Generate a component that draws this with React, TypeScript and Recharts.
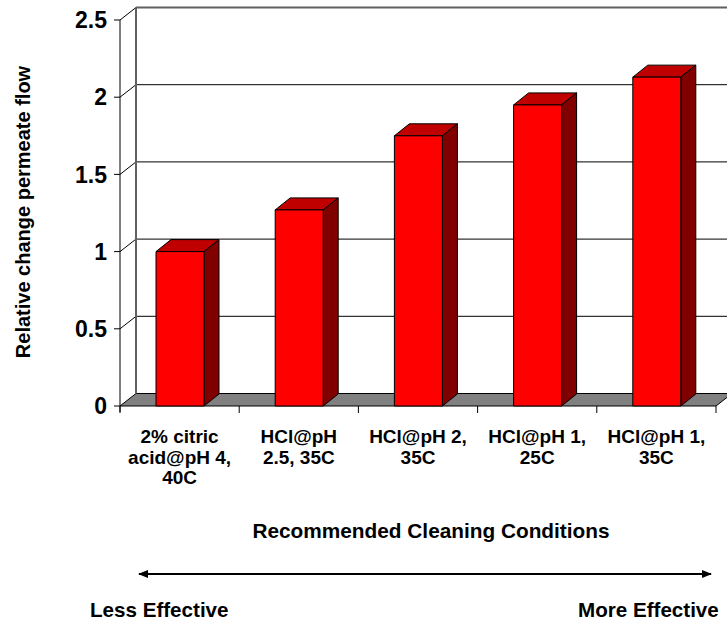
import {
  BarChart,
  Bar,
  XAxis,
  YAxis,
  CartesianGrid,
  ReferenceArea,
} from "recharts";

const categories = [
  "2% citric\nacid@pH 4,\n40C",
  "HCl@pH\n2.5, 35C",
  "HCl@pH 2,\n35C",
  "HCl@pH 1,\n25C",
  "HCl@pH 1,\n35C",
];
const flowChange = [1.0, 1.27, 1.75, 1.95, 2.13];
const yTicks = [0, 0.5, 1, 1.5, 2, 2.5];

const chartData = categories.map((name, i) => ({ name, value: flowChange[i] }));

const FONT = "'Liberation Sans', Arial, Helvetica, sans-serif";
const DX = 16; // depth offset of the back wall
const DY = -12.5;
const BAR_DX = 15;
const BAR_DY = -12;
const CHART_W = 760;
const CHART_H = 622;
const MARGIN = { top: 20, right: 44, left: 0, bottom: 0 };
const Y_AXIS_W = 120;
const BAND = (CHART_W - MARGIN.left - MARGIN.right - Y_AXIS_W) / categories.length;

function Bar3D(props: any) {
  const { x, y, width, height } = props;
  if (height == null || width == null) return null;
  const w = width;
  const h = height;
  return (
    <g stroke="#000" strokeWidth={1} strokeLinejoin="round">
      <polygon
        points={`${x},${y} ${x + BAR_DX},${y + BAR_DY} ${x + w + BAR_DX},${y + BAR_DY} ${x + w},${y}`}
        fill="#C00000"
      />
      <polygon
        points={`${x + w},${y} ${x + w + BAR_DX},${y + BAR_DY} ${x + w + BAR_DX},${y + h + BAR_DY} ${x + w},${y + h}`}
        fill="#800000"
      />
      <rect x={x} y={y} width={w} height={h} fill="#FF0000" />
    </g>
  );
}

// floor + side wall edge + back wall frame
function Frame3D(props: any) {
  const { x, y, width, height } = props;
  const bottom = y + height;
  return (
    <g>
      <polygon
        points={`${x},${bottom} ${x + DX},${bottom + DY} ${x + width + DX},${bottom + DY} ${x + width},${bottom}`}
        fill="#808080"
        stroke="#000"
        strokeWidth={1}
      />
      <line
        x1={x + DX}
        y1={y + DY}
        x2={x + DX}
        y2={bottom + DY}
        stroke="#606060"
        strokeWidth={2}
      />
      <line x1={x} y1={y} x2={x} y2={bottom + 6} stroke="#000" strokeWidth={1} />
    </g>
  );
}

function GridLine3D(props: any) {
  const { x1, y1, x2, index } = props;
  const top = index === yTicks.length - 1 || y1 < 30;
  if (y1 > 400) return <g />;
  return (
    <g>
      <line x1={x1} y1={y1} x2={x1 + DX} y2={y1 + DY} stroke="#000" strokeWidth={1} />
      <line
        x1={x1 + DX}
        y1={y1 + DY}
        x2={x2 + DX}
        y2={y1 + DY}
        stroke={top ? "#606060" : "#000"}
        strokeWidth={top ? 2 : 1}
      />
    </g>
  );
}

function CategoryTick(props: any) {
  const { x, y, payload, index } = props;
  const lines = String(payload.value).split("\n");
  const left = x - BAND / 2;
  return (
    <g>
      <line x1={left} y1={y} x2={left} y2={y + 7} stroke="#000" />
      {index === categories.length - 1 && (
        <line x1={x + BAND / 2} y1={y} x2={x + BAND / 2} y2={y + 7} stroke="#000" />
      )}
      <text
        x={x}
        textAnchor="middle"
        fontFamily={FONT}
        fontWeight="bold"
        fontSize={19}
        fill="#000"
      >
        {lines.map((line, i) => (
          <tspan key={i} x={x} y={y + 37 + i * 20.5}>
            {line}
          </tspan>
        ))}
      </text>
    </g>
  );
}

export default function App() {
  return (
    <div
      style={{
        position: "absolute",
        left: 0,
        top: 0,
        width: 727,
        height: 622,
        overflow: "hidden",
        background: "#fff",
      }}
    >
      <BarChart width={CHART_W} height={CHART_H} data={chartData} margin={MARGIN}>
        <CartesianGrid vertical={false} horizontal={(p: any) => <GridLine3D {...p} />} />
        <ReferenceArea
          y1={0}
          y2={2.5}
          ifOverflow="visible"
          shape={(p: any) => <Frame3D {...p} />}
        />
        <XAxis
          dataKey="name"
          height={CHART_H - 406}
          axisLine={false}
          tickLine={false}
          tickSize={0}
          tickMargin={0}
          interval={0}
          tick={<CategoryTick />}
        />
        <YAxis
          domain={[0, 2.5]}
          ticks={yTicks}
          width={Y_AXIS_W}
          axisLine={false}
          tickLine={{ stroke: "#000" }}
          tickSize={6}
          tickMargin={7}
          tick={{ fill: "#000", fontSize: 23, fontWeight: "bold", fontFamily: FONT }}
        />
        <Bar
          dataKey="value"
          barSize={48}
          shape={<Bar3D />}
          isAnimationActive={false}
        />
      </BarChart>
      <svg
        width={727}
        height={622}
        style={{ position: "absolute", left: 0, top: 0, pointerEvents: "none" }}
      >
        <defs>
          <marker
            id="arrowhead"
            markerWidth="10"
            markerHeight="8"
            refX="9"
            refY="4"
            orient="auto-start-reverse"
            markerUnits="userSpaceOnUse"
          >
            <path d="M0,0 L10,4 L0,8 z" fill="#000" />
          </marker>
        </defs>
        <text
          transform="translate(30,212) rotate(-90)"
          textAnchor="middle"
          fontFamily={FONT}
          fontWeight="bold"
          fontSize={20}
          fill="#000"
        >
          Relative change permeate flow
        </text>
        <text
          x={431}
          y={538}
          textAnchor="middle"
          fontFamily={FONT}
          fontWeight="bold"
          fontSize={20.8}
          fill="#000"
        >
          Recommended Cleaning Conditions
        </text>
        <line
          x1={139}
          y1={574}
          x2={711}
          y2={574}
          stroke="#000"
          strokeWidth={2}
          markerStart="url(#arrowhead)"
          markerEnd="url(#arrowhead)"
        />
        <text x={90} y={617} fontFamily={FONT} fontWeight="bold" fontSize={20.6} fill="#000">
          Less Effective
        </text>
        <text x={578} y={617} fontFamily={FONT} fontWeight="bold" fontSize={20.6} fill="#000">
          More Effective
        </text>
      </svg>
    </div>
  );
}
